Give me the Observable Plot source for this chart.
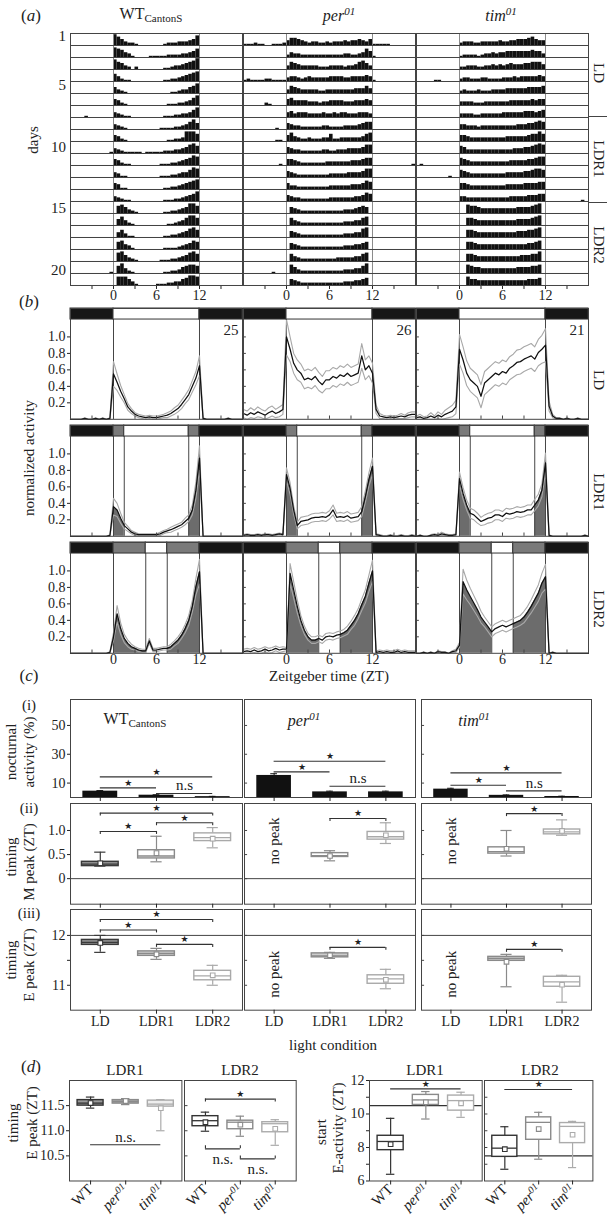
<!DOCTYPE html>
<html><head><meta charset="utf-8">
<script src="https://cdn.jsdelivr.net/npm/d3@7"></script>
<script src="https://cdn.jsdelivr.net/npm/@observablehq/plot@0.6"></script>
<style>
body{margin:0;background:#fff;}
#root{position:relative;width:607px;height:1221px;overflow:hidden;font-family:"Liberation Serif","Times New Roman",Times,serif;color:#222;background:#fff;}
.lbl{position:absolute;white-space:nowrap;line-height:1;}
.lbl sub{font-size:11px;vertical-align:-3px;}
.lbl sup{font-size:11px;vertical-align:6px;}
</style></head><body><div id="root"></div><script>
// ---------------- DATA ----------------
const zt = [-6,-5.5,-5,-4.5,-4,-3.5,-3,-2.5,-2,-1.5,-1,-0.5,0,0.5,1,1.5,2,2.5,3,3.5,4,4.5,5,5.5,6,6.5,7,7.5,8,8.5,9,9.5,10,10.5,11,11.5,12,12.5,13,13.5,14,14.5,15,15.5,16,16.5,17,17.5,18];
const days = [1,2,3,4,5,6,7,8,9,10,11,12,13,14,15,16,17,18,19,20,21];
const dayLabels = [1,5,10,15,20];
const xTicks = [-3,0,3,6,9,12,15];
const xTickLabels = [0,6,12];
const conditions = ["LD","LDR1","LDR2"];
const genotypes = ["WT","per01","tim01"];
const nFlies = [25,26,21];

// actogram rows: activity per 30-min bin (0-9), night before | day | night after
const wtRows = [
"000000000000|975322100000001222333458|000000000000",
"000000000000|876431000011111222233457|000000000000",
"000000000000|865320200000001123345679|000000000000",
"000000000000|642110000000001122345678|000000000000",
"000000000000|532100000000000011233568|000000000000",
"000000000000|542100000000000111223468|000000000000",
"000010000000|432110000000001112233468|000000000000",
"000000000000|432100000000011112234685|000000000000",
"000000000000|542100000000000112238886|000000000000",
"000000000001|432111110111112223345786|000000000000",
"000000000000|542110000000011122345687|000000000000",
"000000000000|431100000000011122344687|000000000000",
"000000000000|541100000000001122345678|000000000000",
"000000000000|432110000000001112234568|000000000000",
"000000000000|067532100000001122345886|000000000000",
"000000000000|057421000000000112346886|000000000000",
"000000000000|046311000000001122345786|000000000000",
"000000000000|067431000000001111234576|000000000000",
"000000000000|078532100000011122345786|000000000000",
"000000000001|068421000000001122356776|000000000000",
"000000000000|077753100000111223356887|000000000000"];
const perRows = [
"111211001112|466543233223233343445435|111110000000",
"000000000000|243322222222222233223475|100000000000",
"000000000000|365433333222333323346753|000000000000",
"121111221111|344323433333444433444454|100000000000",
"000000000000|365433333223333333344464|000000000000",
"000000210000|564444333233444433344454|000000000000",
"000000000000|453444333343343443334443|000000000000",
"000000000100|543322222233222233334566|000000000000",
"000000000110|574322322233622333333467|000000000000",
"000000000000|543322222233223334444577|000000000000",
"000000000010|554322222223333333444566|000000000001",
"000000000000|543222222222333334444577|000000000000",
"000000000000|533222222222333333444576|000000000000",
"000000000000|543322222222333333344576|000000000000",
"000000000000|054322222222222233345650|000000000000",
"000000000000|064322222222222233344670|000000000000",
"000000000000|054322222222222233344780|000000000000",
"000000000000|054322222222222233344560|000000000000",
"000000000000|064322222222223333344670|000000000000",
"000000001000|075322222222222233344680|000000000000",
"000000000000|054322222222222233344560|000000000000"];
const timRows = [
"000000000000|233322333334334455567544|000000000000",
"000000000000|122221233434455555556553|000000000000",
"000000000000|223332233434345444556664|000000000000",
"000001100000|233222332222333434444454|000000000000",
"000000000000|232223222333344444455556|000000000000",
"000000000000|333322233333334444445455|000000000000",
"000000000000|333322333333444444555456|000000000000",
"000000000000|443332333333333344455676|000000000000",
"000000000000|554333333333344444456686|000000000000",
"000000000000|653333333333333444556787|000000000000",
"010000000000|654333333333334444455677|000000000000",
"000000000100|654333333333344444556776|000000000000",
"000000000000|554333333333344444555566|000000000000",
"000000000000|443333333333334444455566|000000000010",
"000000000000|007665444444444455556780|000000000000",
"000000000000|006654444444444455556780|000000000000",
"000000000000|006654444444444455566780|000000000000",
"000000000000|006654444444444444455670|000000000000",
"000000000000|006654444444444445556680|000000000000",
"000000000000|007655444444444455556670|000000000000",
"000000000000|007554444444444444455560|000000000000"];

// light schedules [start, end, phase]
const scheduleLD = [[-6,0,"dark"],[0,12,"light"],[12,18,"dark"]];
const scheduleLDR1 = [[-6,0,"dark"],[0,1.5,"twilight"],[1.5,10.5,"light"],[10.5,12,"twilight"],[12,18,"dark"]];
const scheduleLDR2 = [[-6,0,"dark"],[0,4.5,"twilight"],[4.5,7.5,"light"],[7.5,12,"twilight"],[12,18,"dark"]];

// normalized activity profiles (mean, sem) at zt grid
const wtLDMean = [].concat([0,0,0,0,0.01,0,0,0.01,0,0.01,0,0.01],
 [0.55,0.45,0.34,0.25,0.15,0.1,0.06,0.04,0.03,0.02,0.03,0.02,0.02,0.03,0.04,0.05,0.07,0.1,0.13,0.18,0.24,0.3,0.4,0.5,0.65],
 [0.01,0,0,0,0,0,0,0.01,0,0,0,0]);
const wtLDSem = [].concat([0,0,0,0,0.01,0,0,0.01,0,0.01,0,0.01],
 [0.15,0.1,0.07,0.05,0.04,0.03,0.02,0.02,0.02,0.02,0.02,0.02,0.02,0.02,0.02,0.03,0.03,0.04,0.04,0.05,0.05,0.06,0.07,0.08,0.12],
 [0.01,0,0,0,0,0,0,0.01,0,0,0,0]);
const perLDMean = [].concat([0.07,0.05,0.08,0.06,0.09,0.07,0.05,0.08,0.1,0.07,0.09,0.12],
 [1.0,0.85,0.68,0.6,0.56,0.48,0.5,0.48,0.52,0.46,0.42,0.48,0.48,0.52,0.5,0.54,0.52,0.56,0.52,0.54,0.56,0.77,0.6,0.65,0.56],
 [0.12,0.04,0.03,0.02,0.03,0.02,0.03,0.04,0.03,0.05,0.06,0.06]);
const perLDSem = [].concat([0.05,0.05,0.06,0.05,0.06,0.05,0.05,0.06,0.06,0.05,0.06,0.06],
 [0.22,0.15,0.12,0.12,0.11,0.11,0.11,0.11,0.11,0.11,0.1,0.11,0.11,0.11,0.11,0.11,0.11,0.11,0.11,0.11,0.11,0.15,0.12,0.12,0.12],
 [0.05,0.03,0.02,0.02,0.02,0.02,0.02,0.03,0.02,0.03,0.03,0.03]);
const timLDMean = [].concat([0.02,0.03,0.01,0.02,0.04,0.02,0.05,0.03,0.06,0.08,0.1,0.15],
 [0.85,0.72,0.56,0.48,0.44,0.4,0.28,0.44,0.48,0.52,0.56,0.54,0.58,0.56,0.62,0.65,0.69,0.7,0.73,0.75,0.77,0.73,0.81,0.85,0.9],
 [0.16,0.04,0.01,0.01,0,0.01,0,0,0.01,0,0,0]);
const timLDSem = [].concat([0.02,0.03,0.02,0.02,0.04,0.02,0.04,0.03,0.05,0.06,0.07,0.08],
 [0.18,0.16,0.15,0.14,0.14,0.14,0.14,0.14,0.14,0.14,0.14,0.14,0.14,0.14,0.14,0.14,0.15,0.15,0.15,0.15,0.15,0.15,0.16,0.17,0.2],
 [0.06,0.02,0.01,0.01,0,0.01,0,0,0.01,0,0,0]);
const wtLDR1Mean = [].concat([0,0,0,0,0,0,0,0,0,0,0,0.01],
 [0.36,0.32,0.22,0.13,0.09,0.05,0.03,0.02,0.02,0.02,0.02,0.02,0.02,0.03,0.05,0.065,0.08,0.1,0.12,0.14,0.18,0.22,0.32,0.56,0.95],
 [0,0,0,0,0,0,0,0,0,0,0,0]);
const wtLDR1Sem = [].concat([0,0,0,0,0,0,0,0,0,0,0,0.01],
 [0.1,0.08,0.06,0.04,0.03,0.02,0.02,0.01,0.01,0.01,0.01,0.01,0.01,0.02,0.02,0.02,0.03,0.03,0.03,0.03,0.04,0.04,0.06,0.1,0.15],
 [0,0,0,0,0,0,0,0,0,0,0,0]);
const perLDR1Mean = [].concat([0.01,0.02,0.01,0.01,0.02,0.01,0.02,0.02,0.01,0.02,0.03,0.02],
 [0.75,0.58,0.32,0.13,0.18,0.19,0.2,0.22,0.23,0.23,0.24,0.23,0.26,0.32,0.23,0.24,0.23,0.25,0.22,0.23,0.24,0.3,0.48,0.69,0.85],
 [0.02,0.01,0,0,0.01,0,0,0.01,0,0,0.01,0]);
const perLDR1Sem = [].concat([0.01,0.01,0.01,0.01,0.01,0.01,0.01,0.01,0.01,0.01,0.01,0.01],
 [0.08,0.07,0.05,0.04,0.05,0.05,0.05,0.05,0.05,0.05,0.05,0.05,0.05,0.06,0.05,0.05,0.05,0.05,0.05,0.05,0.05,0.06,0.07,0.08,0.1],
 [0.01,0.01,0.01,0.01,0.01,0.01,0.01,0.01,0.01,0.01,0.01,0.01]);
const timLDR1Mean = [].concat([0,0.01,0,0,0.01,0.02,0.01,0.03,0.02,0.01,0.01,0.02],
 [0.7,0.52,0.38,0.28,0.26,0.22,0.18,0.2,0.22,0.23,0.26,0.26,0.24,0.28,0.27,0.28,0.3,0.29,0.3,0.32,0.32,0.38,0.44,0.56,0.89],
 [0.01,0,0,0,0,0,0,0,0,0,0.01,0]);
const timLDR1Sem = [].concat([0,0.01,0,0,0.01,0.01,0.01,0.02,0.01,0.01,0.01,0.01],
 [0.08,0.07,0.06,0.06,0.06,0.06,0.05,0.06,0.06,0.06,0.06,0.06,0.06,0.06,0.06,0.06,0.06,0.06,0.06,0.06,0.06,0.07,0.07,0.08,0.12],
 [0.01,0,0,0,0,0,0,0,0,0,0.01,0]);
const wtLDR2Mean = [].concat([0,0,0,0,0,0,0,0,0,0,0,0.01],
 [0.2,0.48,0.3,0.18,0.12,0.08,0.06,0.04,0.03,0.03,0.15,0.04,0.04,0.05,0.06,0.06,0.08,0.12,0.16,0.22,0.3,0.4,0.57,0.81,0.99],
 [0,0,0,0,0,0,0,0,0,0,0,0]);
const wtLDR2Sem = [].concat([0,0,0,0,0,0,0,0,0,0,0,0.01],
 [0.05,0.1,0.07,0.05,0.04,0.03,0.02,0.02,0.02,0.02,0.03,0.02,0.02,0.02,0.02,0.02,0.03,0.03,0.04,0.04,0.05,0.06,0.07,0.1,0.15],
 [0,0,0,0,0,0,0,0,0,0,0,0]);
const perLDR2Mean = [].concat([0.02,0.03,0.02,0.04,0.02,0.03,0.05,0.03,0.04,0.06,0.04,0.05],
 [0.05,0.97,0.77,0.57,0.4,0.28,0.2,0.16,0.16,0.18,0.16,0.2,0.21,0.2,0.22,0.23,0.25,0.28,0.34,0.4,0.48,0.59,0.69,0.85,1.0],
 [0.01,0.02,0.01,0.02,0.01,0.01,0.03,0.01,0.02,0.01,0.01,0.01]);
const perLDR2Sem = [].concat([0.03,0.03,0.03,0.03,0.03,0.03,0.03,0.03,0.03,0.03,0.03,0.03],
 [0.02,0.12,0.1,0.08,0.06,0.05,0.04,0.04,0.04,0.04,0.04,0.04,0.04,0.04,0.04,0.04,0.04,0.05,0.05,0.06,0.06,0.07,0.08,0.1,0.13],
 [0.02,0.02,0.02,0.02,0.02,0.02,0.02,0.02,0.02,0.02,0.02,0.02]);
const timLDR2Mean = [].concat([0,0,0.01,0,0.01,0,0.02,0.01,0.01,0,0.02,0.03],
 [0.1,0.87,0.77,0.69,0.61,0.53,0.44,0.38,0.32,0.26,0.3,0.32,0.34,0.32,0.34,0.36,0.38,0.4,0.44,0.5,0.57,0.65,0.73,0.85,0.93],
 [0,0.01,0,0,0,0,0,0,0,0,0,0]);
const timLDR2Sem = [].concat([0,0,0.01,0,0.01,0,0.01,0.01,0.01,0,0.01,0.02],
 [0.03,0.15,0.12,0.1,0.09,0.08,0.07,0.06,0.06,0.06,0.06,0.06,0.06,0.06,0.06,0.06,0.06,0.06,0.07,0.07,0.08,0.09,0.1,0.12,0.15],
 [0,0.01,0,0,0,0,0,0,0,0,0,0]);

// (c)(i) nocturnal activity (%) per condition
const nocWT = [4.4,1.6,0.6], nocPer = [15.3,3.9,3.9], nocTim = [5.8,1.5,0.7];
const nocErrWT = [0.4,0.3,0.2], nocErrPer = [1.2,0.5,0.5], nocErrTim = [0.6,0.3,0.2];
// significance brackets [from, to, y, label, style]
const sigNocWT = [[0,2,14.3,"*"],[0,1,6.7,"*"],[1,2,2.8,"n.s"]];
const sigNocPer = [[0,2,25.2,"*"],[0,1,17.8,"*"],[1,2,7.8,"n.s"]];
const sigNocTim = [[0,2,17.1,"*"],[0,1,8.5,"*"],[1,2,4.6,"n.s"]];
// box stats [min, q1, median, q3, max, mean]
const mPeakWT = [[0.26,0.26,0.30,0.35,0.55,0.32],[0.35,0.42,0.47,0.59,0.88,0.53],[0.64,0.78,0.85,0.94,1.06,0.83]];
const mPeakPer = [null,[0.37,0.45,0.48,0.53,0.58,0.47],[0.73,0.81,0.87,0.97,1.16,0.9]];
const mPeakTim = [null,[0.47,0.52,0.56,0.65,1.0,0.62],[0.9,0.92,0.97,1.02,1.22,0.99]];
const sigMWT = [[0,2,1.36,"*"],[0,1,0.98,"*"],[1,2,1.16,"*"]];
const sigMPer = [[1,2,1.25,"*"]];
const sigMTim = [[1,2,1.35,"*"]];
const ePeakWT = [[11.66,11.81,11.86,11.91,12.0,11.85],[11.52,11.59,11.64,11.68,11.74,11.62],[11.0,11.1,11.19,11.29,11.4,11.2]];
const ePeakPer = [null,[11.54,11.56,11.59,11.64,11.66,11.6],[10.93,11.03,11.13,11.2,11.32,11.11]];
const ePeakTim = [null,[10.97,11.49,11.54,11.57,11.62,11.47],[10.66,10.97,11.07,11.17,11.2,11.01]];
const sigEWT = [[0,2,12.32,"*"],[0,1,12.11,"*"],[1,2,11.82,"*"]];
const sigEPer = [[1,2,11.76,"*"]];
const sigETim = [[1,2,11.72,"*"]];

// (d)
const dGenos = ["WT","per01","tim01"];
const dPeakLDR1 = [[11.45,11.5,11.55,11.61,11.67,11.55],[11.52,11.54,11.58,11.61,11.64,11.59],[11.0,11.48,11.53,11.6,11.62,11.45]];
const dPeakLDR2 = [[10.99,11.09,11.2,11.29,11.37,11.17],[10.89,11.03,11.17,11.2,11.29,11.12],[10.71,10.97,11.14,11.17,11.22,11.04]];
const dStartLDR1 = [[6.4,7.84,8.36,8.7,9.74,8.2],[9.7,10.54,10.84,11.14,11.34,10.7],[9.8,10.2,10.8,11.1,11.3,10.64]];
const dStartLDR2 = [[6.7,7.44,7.96,8.7,9.24,7.9],[7.3,8.46,9.5,9.8,10.1,9.1],[6.8,8.26,9.26,9.46,9.56,8.76]];
const sigDPeakLDR1 = [[0,2,10.72,"n.s.","plain"]];
const sigDPeakLDR2 = [[0,2,11.63,"*","down"],[0,1,10.64,"n.s.","up"],[1,2,10.44,"n.s.","up"]];
const sigDStartLDR1 = [[0,2,11.5,"*","plain"]];
const sigDStartLDR2 = [[0,2,11.46,"*","plain"]];
const startRefLines = [10.5, 7.5];

// ---------------- HELPERS ----------------
const SERIF = '"Liberation Serif","Times New Roman",Times,serif';
const root = document.getElementById("root");
const NS = "http://www.w3.org/2000/svg";

function label(html, x, y, o = {}) {
  const d = document.createElement("div");
  d.className = "lbl";
  d.innerHTML = html;
  d.style.left = x + "px"; d.style.top = y + "px";
  d.style.fontSize = (o.size || 15) + "px";
  const ax = o.anchor === "end" ? "-100%" : o.anchor === "start" ? "0" : "-50%";
  d.style.transform = `translate(${ax},-50%)` + (o.rot ? ` rotate(${o.rot}deg)` : "");
  root.appendChild(d);
}
function hline(x0, x1, y) {
  const d = document.createElement("div");
  d.style.cssText = `position:absolute;left:${x0}px;top:${y}px;width:${x1 - x0}px;height:0;border-top:1px solid #444;`;
  root.appendChild(d);
}
function richify(svg) {
  svg.querySelectorAll("text").forEach(t => {
    const m = /^(per|tim)(01)$/.exec(t.textContent.trim());
    if (!m) return;
    t.textContent = "";
    const a = document.createElementNS(NS, "tspan");
    a.setAttribute("font-style", "italic"); a.textContent = m[1];
    const b = document.createElementNS(NS, "tspan");
    b.setAttribute("font-style", "italic"); b.setAttribute("baseline-shift", "super");
    b.setAttribute("font-size", "10px"); b.textContent = m[2];
    t.append(a, b);
  });
}
function panel(frame, m, opts) {
  const [x0, y0, x1, y1] = frame;
  const [mt, mr, mb, ml] = m;
  const svg = Plot.plot({
    width: x1 - x0 + ml + mr,
    height: y1 - y0 + mt + mb,
    marginTop: mt, marginRight: mr, marginBottom: mb, marginLeft: ml,
    color: {type: "identity"},
    style: {fontFamily: SERIF, fontSize: "14px", overflow: "visible", background: "transparent", color: "#222"},
    ...opts
  });
  svg.style.position = "absolute";
  svg.style.left = (x0 - ml) + "px";
  svg.style.top = (y0 - mt) + "px";
  svg.style.maxWidth = "none";
  root.appendChild(svg);
  richify(svg);
  return svg;
}
// left y axis: labelled (outward ticks) or unlabelled (short inward ticks)
function yAxis(ticks, fmt, xLeft, xLen) {
  if (fmt) return [Plot.axisY({ticks, tickFormat: fmt, tickSize: 3, tickPadding: 2, label: null})];
  return [
    Plot.axisY({ticks, tickFormat: () => "", tickSize: 0, label: null}),
    Plot.ruleY(ticks, {x1: () => xLeft, x2: () => xLeft + xLen, stroke: "#444"})
  ];
}
function boxes(stats, strokes, fills, hw, cw) {
  const rows = stats.map((s, i) => s && {i, min: s[0], q1: s[1], med: s[2], q3: s[3], max: s[4], mean: s[5], stroke: strokes[i], fill: fills[i]}).filter(Boolean);
  return [
    Plot.ruleX(rows, {x: "i", y1: "min", y2: "q1", stroke: "stroke", strokeWidth: 1.2}),
    Plot.ruleX(rows, {x: "i", y1: "q3", y2: "max", stroke: "stroke", strokeWidth: 1.2}),
    Plot.ruleY(rows, {y: "min", x1: d => d.i - cw, x2: d => d.i + cw, stroke: "stroke", strokeWidth: 1.2}),
    Plot.ruleY(rows, {y: "max", x1: d => d.i - cw, x2: d => d.i + cw, stroke: "stroke", strokeWidth: 1.2}),
    Plot.rect(rows, {x1: d => d.i - hw, x2: d => d.i + hw, y1: "q1", y2: "q3", fill: "fill", stroke: "stroke", strokeWidth: 1.4}),
    Plot.ruleY(rows, {y: "med", x1: d => d.i - hw, x2: d => d.i + hw, stroke: "stroke", strokeWidth: 1.3}),
    Plot.dot(rows, {x: "i", y: "mean", symbol: "square", r: 2.6, fill: "white", stroke: "stroke", strokeWidth: 1.1})
  ];
}
function sigMarks(sig, t) {
  const rows = sig.map(s => ({a: s[0], b: s[1], y: s[2], text: s[3], dir: s[4] || (t ? "down" : "plain")}));
  const mid = d => (d.a + d.b) / 2;
  const ends = rows.filter(d => d.dir !== "plain").flatMap(d => [d.a, d.b].map(x => ({x, y: d.y, y2: d.dir === "up" ? d.y + t : d.y - t})));
  const above = rows.filter(d => d.dir !== "up");
  const below = rows.filter(d => d.dir === "up");
  return [
    Plot.ruleY(rows, {y: "y", x1: "a", x2: "b", stroke: "#333", strokeWidth: 1.1}),
    Plot.ruleX(ends, {x: "x", y1: "y", y2: "y2", stroke: "#333", strokeWidth: 1.1}),
    Plot.text(above.filter(d => d.text === "*"), {x: mid, y: "y", text: () => "\u2605", dy: -5, fontSize: 9, fontFamily: "DejaVu Sans", fill: "#222"}),
    Plot.text(above.filter(d => d.text !== "*"), {x: mid, y: "y", text: "text", dy: -8, fontSize: 15, fill: "#222"}),
    Plot.text(below, {x: mid, y: "y", text: "text", dy: 10, fontSize: 15, fill: "#222"})
  ];
}

// ---------------- (a) ACTOGRAMS ----------------
const COL_X = [70, 243, 416], COL_W = 172;
const ACTO_TOP = 29.7, ROW_H = 12.31;
function parseRows(rows) {
  const out = [];
  rows.forEach((s, r) => {
    const digits = s.replace(/\|/g, "");
    for (let i = 0; i < digits.length && i < zt.length - 1; i++) {
      const h = +digits[i];
      if (h > 0) out.push({day: days[r], x1: zt[i], x2: zt[i + 1], h});
    }
  });
  return out;
}
[wtRows, perRows, timRows].forEach((rows, c) => {
  panel([COL_X[c], ACTO_TOP, COL_X[c] + COL_W, ACTO_TOP + days.length * ROW_H], [1, 1, 24, 1], {
    x: {domain: [-6, 18], ticks: xTicks, tickFormat: d => xTickLabels.includes(d) ? String(d) : "", tickSize: 4, tickPadding: 1, label: null},
    y: {domain: [0, 10], axis: null},
    fy: {domain: days, padding: 0, axis: null},
    marks: [
      Plot.rectY(parseRows(rows), {x1: "x1", x2: "x2", y: "h", fy: "day", fill: "#111"}),
      Plot.ruleX([0, 12], {stroke: "#8a8a8a"}),
      Plot.frame({stroke: "#444"})
    ]
  });
});

// ---------------- (b) PROFILES ----------------
const B_TOPS = [308.3, 425, 541.5], B_H = 110.8;
const B_SPLIT = 1.211, B_MAX = 1.345, B_TICK = 0.04;
const phaseFill = {dark: "#161616", twilight: "#7a7a7a", light: "#ffffff"};
const schedules = [scheduleLD, scheduleLDR1, scheduleLDR2];
const profMeans = [[wtLDMean, perLDMean, timLDMean], [wtLDR1Mean, perLDR1Mean, timLDR1Mean], [wtLDR2Mean, perLDR2Mean, timLDR2Mean]];
const profSems = [[wtLDSem, perLDSem, timLDSem], [wtLDR1Sem, perLDR1Sem, timLDR1Sem], [wtLDR2Sem, perLDR2Sem, timLDR2Sem]];
for (let r = 0; r < 3; r++) {
  for (let c = 0; c < 3; c++) {
    const mean = profMeans[r][c], sem = profSems[r][c];
    const pts = zt.map((x, k) => {
      const m = mean[k] ?? 0, s = sem[k] ?? 0;
      return {x, m, hi: Math.min(B_SPLIT, m + s), lo: Math.max(0, m - s)};
    });
    const sched = schedules[r];
    const tw = [];
    sched.forEach((s, j) => { if (s[2] === "twilight") pts.forEach(p => { if (p.x >= s[0] && p.x <= s[1]) tw.push({...p, seg: j}); }); });
    const bounds = sched.slice(1).map(s => s[0]);
    const yTicks = [0.2, 0.4, 0.6, 0.8, 1.0];
    const marks = [
      Plot.areaY(tw, {x: "x", y: "m", z: "seg", fill: "#6c6c6c"}),
      Plot.ruleX(bounds, {y1: 0, y2: B_SPLIT, stroke: "#444"}),
      Plot.line(pts, {x: "x", y: "hi", stroke: "#a8a8a8", strokeWidth: 1.1}),
      Plot.line(pts, {x: "x", y: "lo", stroke: "#a8a8a8", strokeWidth: 1.1}),
      Plot.line(pts, {x: "x", y: "m", stroke: "#111", strokeWidth: 1.25}),
      Plot.rect(sched, {x1: d => d[0], x2: d => d[1], y1: () => B_SPLIT, y2: () => B_MAX, fill: d => phaseFill[d[2]], stroke: "#333"}),
      Plot.ruleX(xTicks, {y1: 0, y2: B_TICK, stroke: "#444"}),
      Plot.frame({stroke: "#444"}),
      Plot.axisX({ticks: xTicks, tickFormat: r === 2 ? (d => xTickLabels.includes(d) ? String(d) : "") : () => "", tickSize: 0, tickPadding: 1, label: null}),
      ...yAxis(yTicks, c === 0 ? d3.format(".1f") : null, -6, 0.4)
    ];
    if (r === 0) marks.push(Plot.text([nFlies[c]], {x: () => 18, y: () => B_SPLIT, text: d => String(d), textAnchor: "end", dx: -4, dy: 11, fontSize: 15, fill: "#222"}));
    panel([COL_X[c], B_TOPS[r], COL_X[c] + COL_W, B_TOPS[r] + B_H], [0, 1, r === 2 ? 20 : 4, 1], {
      x: {domain: [-6, 18]},
      y: {domain: [0, B_MAX]},
      marks
    });
  }
}

// ---------------- (c) ----------------
const C_COLS = [[70, 242], [244, 415], [421, 591]];
const C_ROWS = [[699.3, 797.3], [803.3, 904], [909.3, 1010]];
const C_XDOM = [-0.53, 2.53];
const nocVals = [nocWT, nocPer, nocTim], nocErrs = [nocErrWT, nocErrPer, nocErrTim], nocSig = [sigNocWT, sigNocPer, sigNocTim];
const mPeaks = [mPeakWT, mPeakPer, mPeakTim], mSig = [sigMWT, sigMPer, sigMTim];
const ePeaks = [ePeakWT, ePeakPer, ePeakTim], eSig = [sigEWT, sigEPer, sigETim];
const cStroke = ["#3a3a3a", "#8a8a8a", "#a9a9a9"];
const mFill = ["#8e8e8e", "#ffffff", "#ffffff"];
const eFill = ["#8e8e8e", "#cccccc", "#ffffff"];
const cAxisX = (lab) => Plot.axisX({ticks: [0, 1, 2], tickFormat: lab ? (i => conditions[i]) : () => "", tickSize: 4, tickPadding: 2, label: null});
for (let c = 0; c < 3; c++) {
  const [x0, x1] = C_COLS[c];
  // (i)
  const bars = conditions.map((k, i) => ({i, v: nocVals[c][i], e: nocErrs[c][i]}));
  panel([x0, C_ROWS[0][0], x1, C_ROWS[0][1]], [0, 1, 4, 1], {
    x: {domain: C_XDOM}, y: {domain: [0, 68]},
    marks: [
      Plot.rectY(bars, {x1: d => d.i - 0.31, x2: d => d.i + 0.31, y: "v", fill: "#111"}),
      Plot.ruleX(bars, {x: "i", y1: "v", y2: d => d.v + d.e, stroke: "#111"}),
      Plot.ruleY(bars, {y: d => d.v + d.e, x1: d => d.i - 0.06, x2: d => d.i + 0.06, stroke: "#111"}),
      ...sigMarks(nocSig[c], 0),
      Plot.frame({stroke: "#444"}),
      cAxisX(false),
      ...yAxis([10, 30, 50], c === 0 ? (d => String(d)) : null, C_XDOM[0], 0.055)
    ]
  });
  // (ii)
  const mMarks = [
    Plot.ruleY([0], {stroke: "#444"}),
    ...boxes(mPeaks[c], cStroke, mFill, 0.327, 0.1),
    ...sigMarks(mSig[c], 0.062),
    Plot.frame({stroke: "#444"}),
    cAxisX(false),
    ...yAxis([0, 0.5, 1], c === 0 ? (d => d === 0 ? "0" : d.toFixed(1)) : null, C_XDOM[0], 0.055)
  ];
  if (!mPeaks[c][0]) mMarks.push(Plot.text(["no peak"], {x: () => 0, y: () => 0.78, rotate: -90, fontSize: 15, fill: "#222"}));
  panel([x0, C_ROWS[1][0], x1, C_ROWS[1][1]], [0, 1, 4, 1], {x: {domain: C_XDOM}, y: {domain: [-0.53, 1.56]}, marks: mMarks});
  // (iii)
  const eMarks = [
    Plot.ruleY([12], {stroke: "#444"}),
    ...boxes(ePeaks[c], cStroke, eFill, 0.327, 0.1),
    ...sigMarks(eSig[c], 0.06),
    Plot.frame({stroke: "#444"}),
    cAxisX(true),
    ...yAxis([11, 11.5, 12], c === 0 ? (d => d % 1 === 0 ? String(d) : "") : null, C_XDOM[0], 0.055)
  ];
  if (!ePeaks[c][0]) eMarks.push(Plot.text(["no peak"], {x: () => 0, y: () => 11.22, rotate: -90, fontSize: 15, fill: "#222"}));
  panel([x0, C_ROWS[2][0], x1, C_ROWS[2][1]], [0, 1, 24, 1], {x: {domain: C_XDOM}, y: {domain: [10.5, 12.52]}, marks: eMarks});
}

// ---------------- (d) ----------------
const D_Y = [1079.5, 1180];
const dStroke = ["#333333", "#8a8a8a", "#ababab"];
const dPanels = [
  {x0: 69.3, x1: 181.7, stats: dPeakLDR1, sig: sigDPeakLDR1, dom: [10, 12], ticks: [10.5, 11, 11.5], fmt: d => d.toFixed(1), fills: ["#9a9a9a", "#a8a8a8", "#eeeeee"], ref: null},
  {x0: 184.3, x1: 296, stats: dPeakLDR2, sig: sigDPeakLDR2, dom: [10, 12], ticks: [10.5, 11, 11.5], fmt: null, fills: ["#fff", "#fff", "#fff"], ref: null},
  {x0: 369, x1: 481.7, stats: dStartLDR1, sig: sigDStartLDR1, dom: [6, 12], ticks: [6, 7, 8, 9, 10, 11, 12], fmt: d => d % 2 === 0 ? String(d) : "", fills: ["#fff", "#fff", "#fff"], ref: startRefLines[0]},
  {x0: 484.3, x1: 592.7, stats: dStartLDR2, sig: sigDStartLDR2, dom: [6, 12], ticks: [7, 8, 9, 10, 11], fmt: null, fills: ["#fff", "#fff", "#fff"], ref: startRefLines[1]}
];
dPanels.forEach(p => {
  const t = (p.dom[1] - p.dom[0]) * 3 / (D_Y[1] - D_Y[0]);
  const marks = [];
  if (p.ref !== null) marks.push(Plot.ruleY([p.ref], {stroke: "#333", strokeWidth: 1.2}));
  marks.push(
    ...boxes(p.stats, dStroke, p.fills, 0.37, 0.12),
    ...sigMarks(p.sig, t),
    Plot.frame({stroke: "#444"}),
    Plot.axisX({ticks: [0, 1, 2], tickFormat: i => dGenos[i], tickRotate: -45, tickSize: 4, tickPadding: 2, fontSize: 15, label: null}),
    ...yAxis(p.ticks, p.fmt, -0.6, 0.1)
  );
  panel([p.x0, D_Y[0], p.x1, D_Y[1]], [0, 1, 40, 1], {x: {domain: [-0.6, 2.6]}, y: {domain: p.dom}, marks});
});

// ---------------- TEXT LABELS ----------------
label("(<i>a</i>)", 31, 15, {size: 17});
label("(<i>b</i>)", 29, 301, {size: 17});
label("(<i>c</i>)", 29, 675, {size: 17});
label("(<i>d</i>)", 31, 1066, {size: 17});
label("WT<sub>CantonS</sub>", 151, 15, {size: 16});
label("<i>per<sup>01</sup></i>", 339, 15, {size: 16});
label("<i>tim<sup>01</sup></i>", 501, 15, {size: 16});
dayLabels.forEach(d => label(String(d), 66, ACTO_TOP + (d - 0.5) * ROW_H, {size: 15, anchor: "end"}));
label("days", 33, 140, {size: 15, rot: -90});
label("LD", 598, 73, {size: 15, rot: 90});
label("LDR1", 598, 159, {size: 15, rot: 90});
label("LDR2", 598, 245, {size: 15, rot: 90});
hline(589, 607, ACTO_TOP + 7 * ROW_H);
hline(589, 607, ACTO_TOP + 14 * ROW_H);
label("LD", 598, 380, {size: 15, rot: 90});
label("LDR1", 598, 492, {size: 15, rot: 90});
label("LDR2", 598, 609, {size: 15, rot: 90});
label("normalized activity", 29, 458, {size: 15, rot: -90});
label("Zeitgeber time (ZT)", 329, 676, {size: 15});
label("(i)", 29, 705, {size: 15});
label("(ii)", 29, 808, {size: 15});
label("(iii)", 29, 913, {size: 15});
label("nocturnal", 11, 752, {size: 15, rot: -90});
label("activity (%)", 29, 752, {size: 15, rot: -90});
label("timing", 11, 857, {size: 15, rot: -90});
label("M peak (ZT)", 29, 862, {size: 15, rot: -90});
label("timing", 11, 960, {size: 15, rot: -90});
label("E peak (ZT)", 29, 965, {size: 15, rot: -90});
label("WT<sub>CantonS</sub>", 135, 720, {size: 16});
label("<i>per<sup>01</sup></i>", 304, 720, {size: 16});
label("<i>tim<sup>01</sup></i>", 474, 720, {size: 16});
label("light condition", 333, 1045, {size: 15});
label("LDR1", 125, 1070, {size: 15});
label("LDR2", 240, 1070, {size: 15});
label("LDR1", 425, 1070, {size: 15});
label("LDR2", 540, 1070, {size: 15});
label("timing", 13, 1123, {size: 15, rot: -90});
label("E peak (ZT)", 32, 1123, {size: 15, rot: -90});
label("start", 321, 1132, {size: 15, rot: -90});
label("E-activity (ZT)", 338, 1128, {size: 15, rot: -90});
</script></body></html>
